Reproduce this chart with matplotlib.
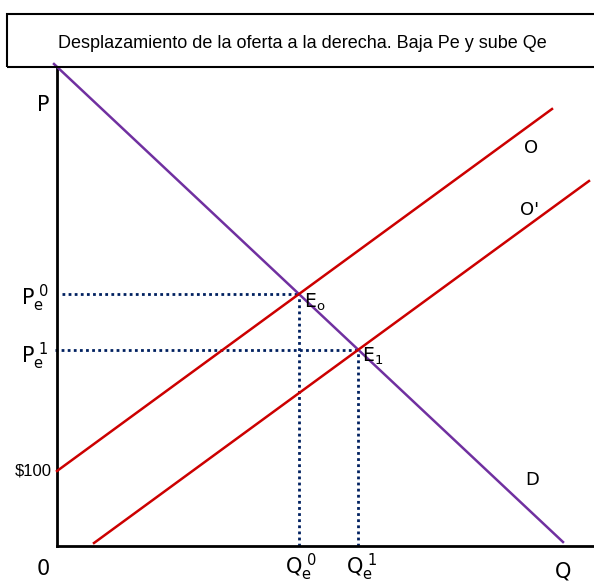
import matplotlib.pyplot as plt
from matplotlib.patches import Rectangle

plt.rcParams["font.family"] = ["DejaVu Sans"]
narrow = ["Liberation Sans", "DejaVu Sans"]

# curves (Q, P) in chart units, origin at the axes corner
demand_q = [-3, 506]
demand_p = [482, 4]
supply_q = [0, 495]
supply_p = [75, 437]
supply2_q = [37, 532]
supply2_p = [3, 365]

# equilibria
e0 = (242, 252)
e1 = (301, 196)

title = "Desplazamiento de la oferta a la derecha. Baja Pe y sube Qe"

W, H = 594, 585
fig = plt.figure(figsize=(W / 100, H / 100), dpi=100)
ax = fig.add_axes([57 / W, (H - 546) / H, (W - 57) / W, (546 - 67) / H])
ax.set_xlim(0, W - 57)
ax.set_ylim(0, 546 - 67)
ax.set_xticks([])
ax.set_yticks([])
for s in ["top", "right"]:
    ax.spines[s].set_visible(False)
for s in ["left", "bottom"]:
    ax.spines[s].set_linewidth(2)

purple = "#7030A0"
red = "#CC0000"
navy = "#002060"

ax.plot(demand_q, demand_p, color=purple, lw=1.8, clip_on=False, zorder=3)
ax.plot(supply_q, supply_p, color=red, lw=1.8, clip_on=False, zorder=3)
ax.plot(supply2_q, supply2_p, color=red, lw=1.8, clip_on=False, zorder=3)

# dotted guides
dots = (0, (1, 1.2))
ax.plot([5, e0[0]], [e0[1], e0[1]], color=navy, lw=2, ls=dots, zorder=2)
ax.plot([e0[0], e0[0]], [0, e0[1]], color=navy, lw=2, ls=dots, zorder=2)
ax.plot([-2, e1[0]], [e1[1], e1[1]], color=navy, lw=2, ls=dots, zorder=2, clip_on=False)
ax.plot([e1[0], e1[0]], [0, e1[1]], color=navy, lw=2, ls=dots, zorder=2)

fs = 15
ax.text(-14, 441, "P", fontsize=fs, ha="center", va="center")
ax.text(-22, 248, r"$\mathregular{P_e^{\ 0}}$", fontsize=fs, ha="center", va="center")
ax.text(-22, 190, r"$\mathregular{P_e^{\ 1}}$", fontsize=fs, ha="center", va="center")
ax.text(-5, 75, "$100", fontsize=12, ha="right", va="center", family=narrow)
ax.text(-14, -23, "0", fontsize=fs, ha="center", va="center")
ax.text(e0[0] + 2, -21, r"$\mathregular{Q_e^{\ 0}}$", fontsize=fs, ha="center", va="center")
ax.text(e1[0] + 4, -21, r"$\mathregular{Q_e^{\ 1}}$", fontsize=fs, ha="center", va="center")
ax.text(506, -26, "Q", fontsize=fs, ha="center", va="center")
ax.text(474, 398, "O", fontsize=13, ha="center", va="center")
ax.text(473, 336, "O'", fontsize=13, ha="center", va="center")
ax.text(475, 66, "D", fontsize=13, ha="center", va="center")
ax.text(e0[0] + 5, e0[1] - 8, r"$\mathregular{E_o}$", fontsize=13.5, ha="left", va="center")
ax.text(e1[0] + 4, e1[1] - 6, r"$\mathregular{E_1}$", fontsize=13.5, ha="left", va="center")
for t in ax.texts:
    t.set_clip_on(False)

# title box
fig.patches.append(Rectangle((7 / W, (H - 67) / H), (W - 7 + 20) / W, 53 / H,
                             transform=fig.transFigure, fill=False, lw=1.5,
                             edgecolor="black", clip_on=False))
fig.text(302 / W, (H - 43) / H, title, fontsize=13, ha="center", va="center",
         family=narrow)

fig.savefig("out.png", dpi=100)
